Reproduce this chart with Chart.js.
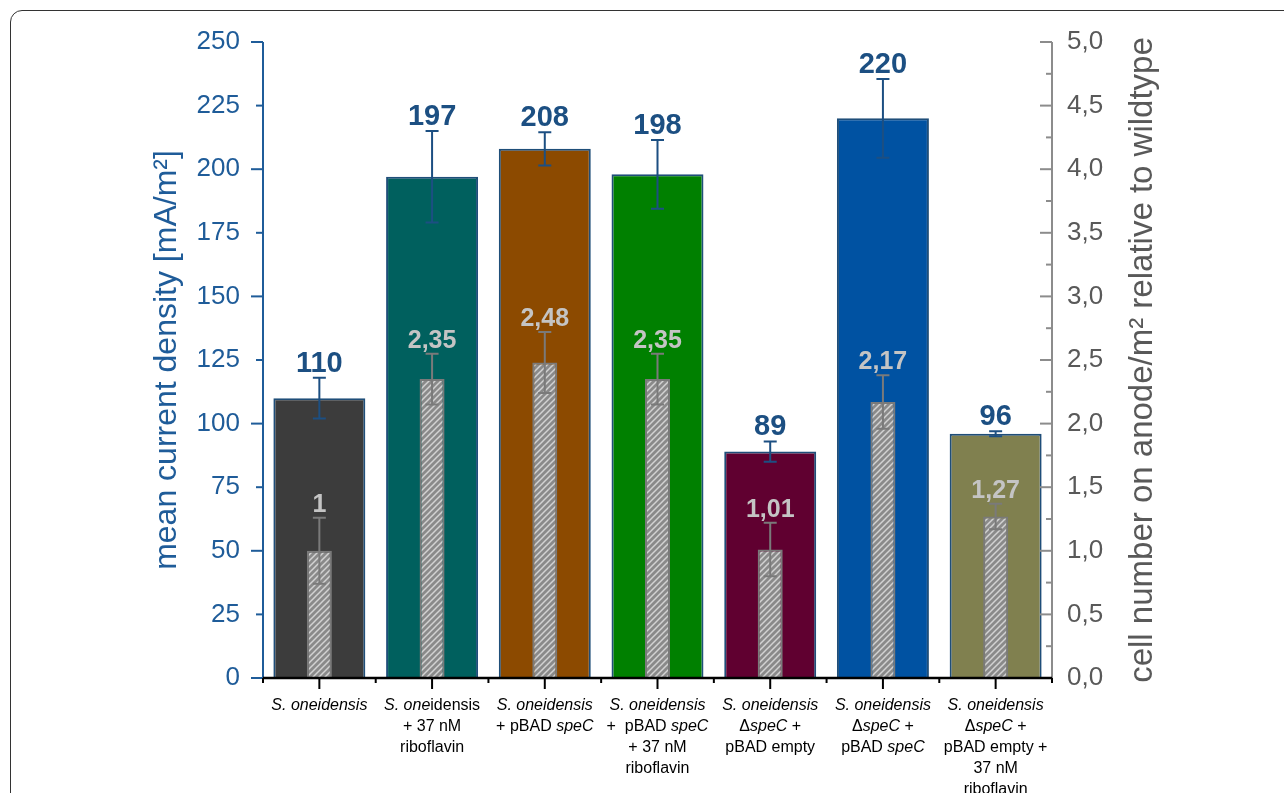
<!DOCTYPE html>
<html>
<head>
<meta charset="utf-8">
<script src="https://cdn.jsdelivr.net/npm/chart.js@4.4.0/dist/chart.umd.min.js"></script>
<style>
    html, body { margin: 0; padding: 0; background: #fff; overflow: hidden; }
    #wrap { position: relative; width: 1284px; height: 793px; }
    #frame { position: absolute; left: 10px; top: 10px; width: 1300px; height: 900px; border: 1.5px solid #333; border-radius: 12px; }
    canvas { position: absolute; left: 0; top: 0; }
</style>
</head>
<body>
<div id="wrap">
    <div id="frame"></div>
    <canvas id="chart1" width="1284" height="793"></canvas>
</div>
<script>
// categories: each line is a list of [text, italic]
var strainLabels = [
    [[['S. oneidensis', true]]],
    [[['S. one', true], ['idensis', false]], [['+ 37 nM', false]], [['riboflavin', false]]],
    [[['S. oneidensis', true]], [['+ pBAD ', false], ['speC', true]]],
    [[['S. oneidensis', true]], [['+  pBAD ', false], ['speC', true]], [['+ 37 nM', false]], [['riboflavin', false]]],
    [[['S. oneidensis', true]], [['\u0394', false], ['speC', true], [' +', false]], [['pBAD empty', false]]],
    [[['S. oneidensis', true]], [['\u0394', false], ['speC', true], [' +', false]], [['pBAD ', false], ['speC', true]]],
    [[['S. oneidensis', true]], [['\u0394', false], ['speC', true], [' +', false]], [['pBAD empty +', false]], [['37 nM', false]], [['riboflavin', false]]]
];

// mean current density (left axis)
var currentDensity = [110, 197, 208, 198, 89, 220, 96];
var currentError = [8, 18, 6.5, 13.5, 4, 15.5, 1];
var currentText = ['110', '197', '208', '198', '89', '220', '96'];

// cell number relative to wildtype (right axis)
var cellNumber = [1, 2.35, 2.48, 2.35, 1.01, 2.17, 1.27];
var cellError = [0.26, 0.2, 0.24, 0.2, 0.21, 0.21, 0.1];
var cellText = ['1', '2,35', '2,48', '2,35', '1,01', '2,17', '1,27'];

var barColors = ['#3c3c3c', '#00605e', '#8c4a00', '#008000', '#600030', '#0052a2', '#80804f'];

var FONT = '"Liberation Sans", Arial, sans-serif';
var BLUE = '#1f5c99';
var DARKBLUE = '#1c4f82';
var GREY = '#595959';

// hatch pattern for the cell number bars
function makeHatch() {
    var c = document.createElement('canvas');
    c.width = 6;
    c.height = 6;
    var g = c.getContext('2d');
    g.fillStyle = '#8a8a8a';
    g.fillRect(0, 0, 6, 6);
    g.strokeStyle = '#d2d2d2';
    g.lineWidth = 1.5;
    g.beginPath();
    g.moveTo(-3, 3); g.lineTo(3, -3);
    g.moveTo(0, 6); g.lineTo(6, 0);
    g.moveTo(3, 9); g.lineTo(9, 3);
    g.stroke();
    return g.createPattern(c, 'repeat');
}

var decorPlugin = {
    id: 'decor',
    afterDatasetsDraw: function (chart) {
        var ctx = chart.ctx;
        var x = chart.scales.x, y = chart.scales.y, y1 = chart.scales.y1;
        var area = chart.chartArea;
        ctx.save();

        // error bars
        function errBar(cx, top, bottom, color) {
            ctx.strokeStyle = color;
            ctx.lineWidth = 2;
            ctx.beginPath();
            ctx.moveTo(cx, top); ctx.lineTo(cx, bottom);
            ctx.moveTo(cx - 6.5, top); ctx.lineTo(cx + 6.5, top);
            ctx.moveTo(cx - 6.5, bottom); ctx.lineTo(cx + 6.5, bottom);
            ctx.stroke();
        }
        for (var i = 0; i < currentDensity.length; i++) {
            var cx = x.getPixelForValue(i);
            var t = y.getPixelForValue(currentDensity[i] + currentError[i]);
            var b = y.getPixelForValue(currentDensity[i] - currentError[i]);
            errBar(cx, t, b, DARKBLUE);
            ctx.fillStyle = DARKBLUE;
            ctx.font = 'bold 29px ' + FONT;
            ctx.textAlign = 'center';
            ctx.textBaseline = 'alphabetic';
            ctx.fillText(currentText[i], cx, t - 6);

            var t1 = y1.getPixelForValue(cellNumber[i] + cellError[i]);
            var b1 = y1.getPixelForValue(cellNumber[i] - cellError[i]);
            errBar(cx, t1, b1, '#7a7a7a');
            ctx.fillStyle = '#c4c4c4';
            ctx.font = 'bold 25px ' + FONT;
            ctx.fillText(cellText[i], cx, t1 - 6);
        }

        // axis lines
        ctx.lineWidth = 2;
        ctx.strokeStyle = BLUE;
        ctx.beginPath(); ctx.moveTo(area.left, area.top); ctx.lineTo(area.left, area.bottom); ctx.stroke();
        ctx.strokeStyle = '#8c8c8c';
        ctx.beginPath(); ctx.moveTo(area.right, area.top); ctx.lineTo(area.right, area.bottom + 1); ctx.stroke();

        // left ticks (outside), long every 50
        ctx.strokeStyle = BLUE;
        for (var v = 0; v <= 250; v += 25) {
            var py = y.getPixelForValue(v);
            var len = (v % 50 === 0) ? 12 : 7;
            ctx.beginPath(); ctx.moveTo(area.left - len, py); ctx.lineTo(area.left, py); ctx.stroke();
        }
        // right ticks (inside), long every 0.5
        ctx.strokeStyle = '#8c8c8c';
        for (var k = 0; k <= 20; k++) {
            var py1 = y1.getPixelForValue(k * 0.25);
            var len1 = (k % 2 === 0) ? 12 : 6;
            ctx.beginPath(); ctx.moveTo(area.right - len1, py1); ctx.lineTo(area.right, py1); ctx.stroke();
        }

        // x axis line and ticks
        ctx.strokeStyle = '#000';
        ctx.lineWidth = 2.5;
        ctx.beginPath(); ctx.moveTo(area.left, area.bottom); ctx.lineTo(area.right, area.bottom); ctx.stroke();
        ctx.lineWidth = 2;
        for (var j = 0; j <= strainLabels.length; j++) {
            var bx = x.getPixelForValue(j - 0.5);
            ctx.beginPath(); ctx.moveTo(bx, area.bottom); ctx.lineTo(bx, area.bottom + 5); ctx.stroke();
            if (j < strainLabels.length) {
                var mx = x.getPixelForValue(j);
                ctx.beginPath(); ctx.moveTo(mx, area.bottom); ctx.lineTo(mx, area.bottom + 11); ctx.stroke();
            }
        }

        // category labels with mixed italic
        ctx.fillStyle = '#000';
        ctx.textBaseline = 'middle';
        ctx.textAlign = 'left';
        for (var c = 0; c < strainLabels.length; c++) {
            var center = x.getPixelForValue(c);
            var lines = strainLabels[c];
            for (var l = 0; l < lines.length; l++) {
                var segs = lines[l];
                var w = 0;
                segs.forEach(function (s) {
                    ctx.font = (s[1] ? 'italic ' : '') + '16px ' + FONT;
                    w += ctx.measureText(s[0]).width;
                });
                var sx = center - w / 2;
                var ly = area.bottom + 28 + l * 21;
                segs.forEach(function (s) {
                    ctx.font = (s[1] ? 'italic ' : '') + '16px ' + FONT;
                    ctx.fillText(s[0], sx, ly);
                    sx += ctx.measureText(s[0]).width;
                });
            }
        }

        // axis titles, both reading bottom to top
        var midY = (area.top + area.bottom) / 2;
        ctx.textAlign = 'center';
        ctx.textBaseline = 'middle';
        ctx.save();
        ctx.translate(167, midY);
        ctx.rotate(-Math.PI / 2);
        ctx.fillStyle = BLUE;
        ctx.font = '32px ' + FONT;
        ctx.fillText('mean current density [mA/m\u00b2]', 0, 0);
        ctx.restore();

        ctx.save();
        ctx.translate(1143, midY);
        ctx.rotate(-Math.PI / 2);
        ctx.fillStyle = GREY;
        ctx.font = '33px ' + FONT;
        ctx.fillText('cell number on anode/m\u00b2 relative to wildtype', 0, 0);
        ctx.restore();

        ctx.restore();
    }
};

var ctx = document.getElementById('chart1').getContext('2d');
var hatch = makeHatch();

var myChart = new Chart(ctx, {
    type: 'bar',
    data: {
        labels: strainLabels.map(function (s, i) { return 'c' + i; }),
        datasets: [{
            label: 'cell number',
            data: cellNumber,
            yAxisID: 'y1',
            backgroundColor: hatch,
            borderColor: '#7a7a7a',
            borderWidth: 2,
            barPercentage: 0.222,
            categoryPercentage: 1,
            order: 1
        }, {
            label: 'mean current density',
            data: currentDensity,
            yAxisID: 'y',
            backgroundColor: barColors,
            borderColor: '#1f4e79',
            borderWidth: 2,
            barPercentage: 0.816,
            categoryPercentage: 1,
            order: 2
        }]
    },
    options: {
        responsive: false,
        animation: false,
        devicePixelRatio: 1,
        layout: { padding: { top: 42, left: 0, right: 0, bottom: 0 } },
        plugins: { legend: { display: false }, tooltip: { enabled: false } },
        datasets: { bar: { grouped: false } },
        scales: {
            x: {
                grid: { display: false },
                border: { display: false },
                ticks: { display: false },
                afterFit: function (scale) { scale.height = 115; }
            },
            y: {
                position: 'left',
                min: 0,
                max: 250,
                grid: { display: false },
                border: { display: false },
                ticks: {
                    stepSize: 25,
                    padding: 15,
                    color: BLUE,
                    font: { family: FONT, size: 26 }
                },
                afterFit: function (scale) { scale.width = 263; }
            },
            y1: {
                position: 'right',
                min: 0,
                max: 5,
                grid: { display: false },
                border: { display: false },
                ticks: {
                    stepSize: 0.5,
                    padding: 7,
                    color: GREY,
                    font: { family: FONT, size: 26 },
                    callback: function (value) { return value.toFixed(1).replace('.', ','); }
                },
                afterFit: function (scale) { scale.width = 232; }
            }
        }
    },
    plugins: [decorPlugin]
});
</script>
</body>
</html>
